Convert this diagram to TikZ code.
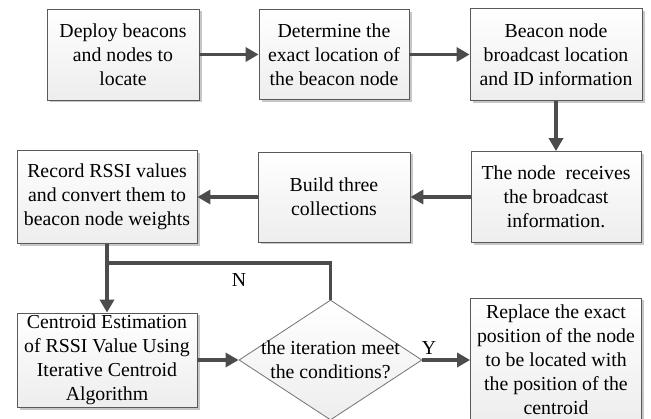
\documentclass[tikz,border=0pt]{standalone}
\usepackage{fontspec}
\setmainfont{Liberation Serif}
\usetikzlibrary{shapes.geometric,arrows.meta,shadows}
\begin{document}
\begin{tikzpicture}[x=1pt,y=-1pt,
	box/.style={draw=black!65,line width=.8pt,top color=white,bottom color=black!7,
		drop shadow={shadow xshift=2.5pt,shadow yshift=-2.5pt,fill=black!22,opacity=1},
		align=center,inner sep=2pt,font=\fontsize{19.8}{24}\selectfont},
	cond/.style={diamond,draw=black!55,line width=.8pt,top color=white,bottom color=black!7,
		inner sep=0pt,minimum width=183pt,minimum height=120pt},
	flow/.style={draw=black!70,line width=3.5pt,-{Triangle[length=13pt,width=14pt]}},
	link/.style={draw=black!70,line width=3.5pt},
	lbl/.style={align=center,font=\fontsize{19.8}{24}\selectfont,inner sep=0pt}]
	\useasboundingbox (0,0) rectangle (651,419);
	\node[box,minimum width=152pt,minimum height=91pt] (deploy) at (123,54.5) {Deploy beacons\\and nodes to\\locate};
	\node[box,minimum width=150pt,minimum height=90pt] (locate) at (334,54.5) {Determine the\\exact location of\\the beacon node};
	\node[box,minimum width=172pt,minimum height=92pt] (broadcast) at (556,54.5) {Beacon node\\broadcast location\\and ID information};
	\node[box,minimum width=170pt,minimum height=91pt] (receive) at (556,197) {The node\ \ receives\\the broadcast\\information.};
	\node[box,minimum width=152pt,minimum height=90pt] (collect) at (334,197) {Build three\\collections};
	\node[box,minimum width=180pt,minimum height=93pt] (record) at (107,197) {Record RSSI values\\and convert them to\\beacon node weights};
	\node[box,minimum width=180pt,minimum height=89pt] (estimate) at (107,360) {Centroid Estimation\\of RSSI Value Using\\Iterative Centroid\\Algorithm};
	\node[cond] (cond) at (330.5,360) {};
	\node[lbl] (condtext) at (cond) {the iteration meet\\the conditions?};
	\node[box,minimum width=171pt,minimum height=124pt] (replace) at (556,360) {Replace the exact\\position of the node\\to be located with\\the position of the\\centroid};
	\coordinate (loop) at (107,263);
	\draw[flow] (deploy) -- (locate);
	\draw[flow] (locate) -- (broadcast);
	\draw[flow] (broadcast) -- (receive);
	\draw[flow] (receive) -- (collect);
	\draw[flow] (collect) -- (record);
	\draw[flow] (record) -- (estimate);
	\draw[link] (cond.north) |- (loop);
	\draw[flow] (estimate) -- (cond);
	\draw[flow] (cond) -- (replace);
	\node[lbl] (no) at (239,280) {N};
	\node[lbl] (yes) at (429,348.5) {Y};
\end{tikzpicture}
\end{document}
